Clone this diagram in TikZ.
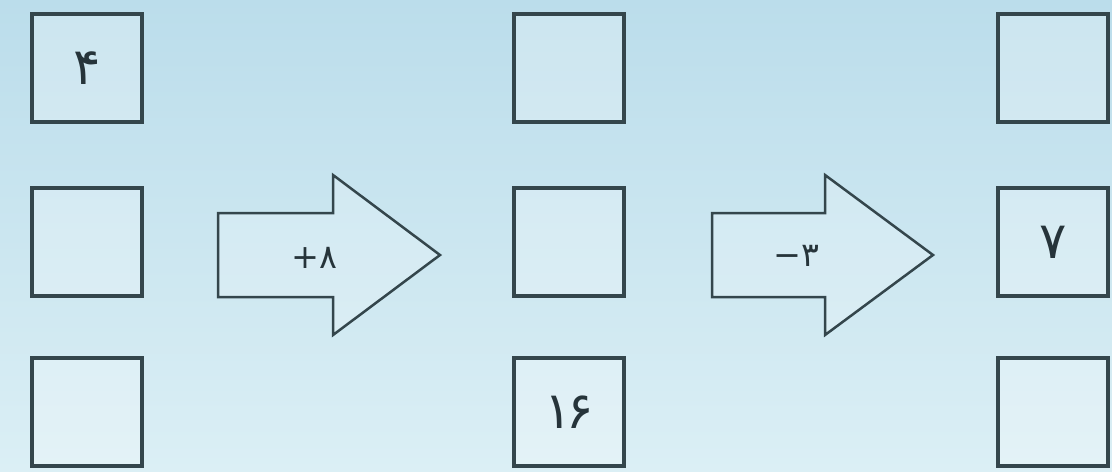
\documentclass[tikz,border=0pt]{standalone}
\usepackage{fontspec}
\newfontfamily\digitfont{DejaVu Sans}
\definecolor{skytop}{HTML}{BBDDEB}
\definecolor{skybottom}{HTML}{DBEFF5}
\definecolor{linecol}{HTML}{34464C}
\definecolor{ink}{HTML}{26343A}
\tikzset{
  cell/.style={draw=linecol, line width=0.07cm, fill=white, fill opacity=0.25, text opacity=1,
    minimum width=2.2cm, minimum height=2.16cm, inner sep=0pt, text=ink,
    font=\digitfont\fontsize{29}{29}\selectfont},
  bigarrow/.style={draw=linecol, line width=0.05cm, fill=white, fill opacity=0.2, line join=miter},
  oplabel/.style={inner sep=0pt, text=ink, font=\digitfont\fontsize{19}{19}\selectfont}
}
\begin{document}
\begin{tikzpicture}[x=0.02cm, y=-0.02cm]
  % Background
  \useasboundingbox (0,0) rectangle (1112,471);
  \shade[top color=skytop, bottom color=skybottom] (0,0) rectangle (1112,471);

  % Left column
  \node[cell] (a1) at (87,68) {۴};
  \node[cell] (a2) at (87,242) {};
  \node[cell] (a3) at (87,412) {};

  % Middle column
  \node[cell] (b1) at (569,68) {};
  \node[cell] (b2) at (569,242) {};
  \node[cell] (b3) at (569,412) {۱\kern-3pt۶};

  % Right column
  \node[cell] (c1) at (1053,68) {};
  \node[cell] (c2) at (1053,242) {۷};
  \node[cell] (c3) at (1053,412) {};

  % Block arrows
  \draw[bigarrow] (218,213) -- (333,213) -- (333,175) -- (440,255) -- (333,335) -- (333,297) -- (218,297) -- cycle;
  \node[oplabel] (add) at (314,258) {+۸};
  \draw[bigarrow] (712,213) -- (825,213) -- (825,175) -- (933,255) -- (825,335) -- (825,297) -- (712,297) -- cycle;
  \node[oplabel] (sub) at (796,256) {−۳};
\end{tikzpicture}
\end{document}
